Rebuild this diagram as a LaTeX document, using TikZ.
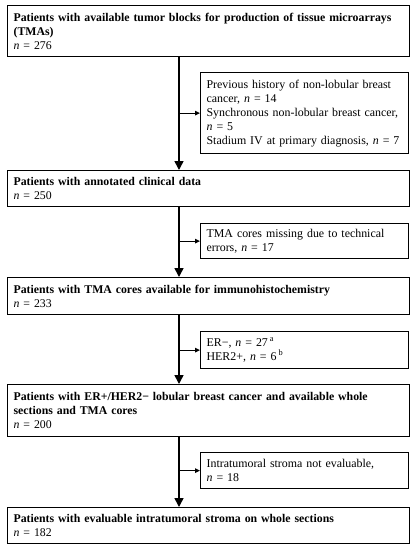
\documentclass[tikz,border=0pt]{standalone}
\usepackage{fontspec}
\setmainfont{Liberation Serif}
\usetikzlibrary{arrows.meta}
\begin{document}
\begin{tikzpicture}[x=1pt,y=-1pt,
  box/.style={draw, line width=1.2pt, inner xsep=6pt, inner ysep=0pt, align=left, anchor=north west,
    font=\fontsize{11.9}{14}\selectfont},
  mainbox/.style={box, text width=390pt, font=\bfseries\fontsize{11.8}{14}\selectfont},
  sidebox/.style={box, text width=196pt},
  vline/.style={line width=1.6pt, -{Triangle[length=9pt,width=9pt]}},
  hline/.style={line width=1.1pt, -{Triangle[length=5pt,width=4.5pt]}}]
\useasboundingbox (0,0) rectangle (414,550);
\fill[white] (0,0) rectangle (414,550);
\coordinate (c) at (179,0);
\node[mainbox, minimum height=51pt] (m1) at (7,5) {Patients with available tumor blocks for production of tissue microarrays\\(TMAs)\\\mdseries\textit{n} = 276};
\node[mainbox, minimum height=36pt] (m2) at (7,170) {Patients with annotated clinical data\\\mdseries\textit{n} = 250};
\node[mainbox, minimum height=37pt] (m3) at (7,277) {Patients with TMA cores available for immunohistochemistry\\\mdseries\textit{n} = 233};
\node[mainbox, minimum height=52pt] (m4) at (7,384) {Patients with ER+/HER2− lobular breast cancer and available whole\\sections and TMA cores\\\mdseries\textit{n} = 200};
\node[mainbox, minimum height=36pt] (m5) at (7,507) {Patients with evaluable intratumoral stroma on whole sections\\\mdseries\textit{n} = 182};
\node[sidebox, minimum height=81pt] (s1) at (200,72) {Previous history of non-lobular breast\\cancer, \textit{n} = 14\\Synchronous non-lobular breast cancer,\\\textit{n} = 5\\Stadium IV at primary diagnosis, \textit{n} = 7};
\node[sidebox, minimum height=35pt] (s2) at (200,223) {TMA cores missing due to technical\\errors, \textit{n} = 17};
\node[sidebox, minimum height=37pt] (s3) at (200,331) {ER−, \textit{n} = 27\,\textsuperscript{a}\\HER2+, \textit{n} = 6\,\textsuperscript{b}};
\node[sidebox, minimum height=36pt] (s4) at (200,452) {Intratumoral stroma not evaluable,\\\textit{n} = 18};
\draw[vline] (m1.south -| c) -- (m2.north -| c);
\draw[vline] (m2.south -| c) -- (m3.north -| c);
\draw[vline] (m3.south -| c) -- (m4.north -| c);
\draw[vline] (m4.south -| c) -- (m5.north -| c);
\draw[hline] (s1.west -| c) -- (s1.west);
\draw[hline] (s2.west -| c) -- (s2.west);
\draw[hline] (s3.west -| c) -- (s3.west);
\draw[hline] (s4.west -| c) -- (s4.west);
\end{tikzpicture}
\end{document}
